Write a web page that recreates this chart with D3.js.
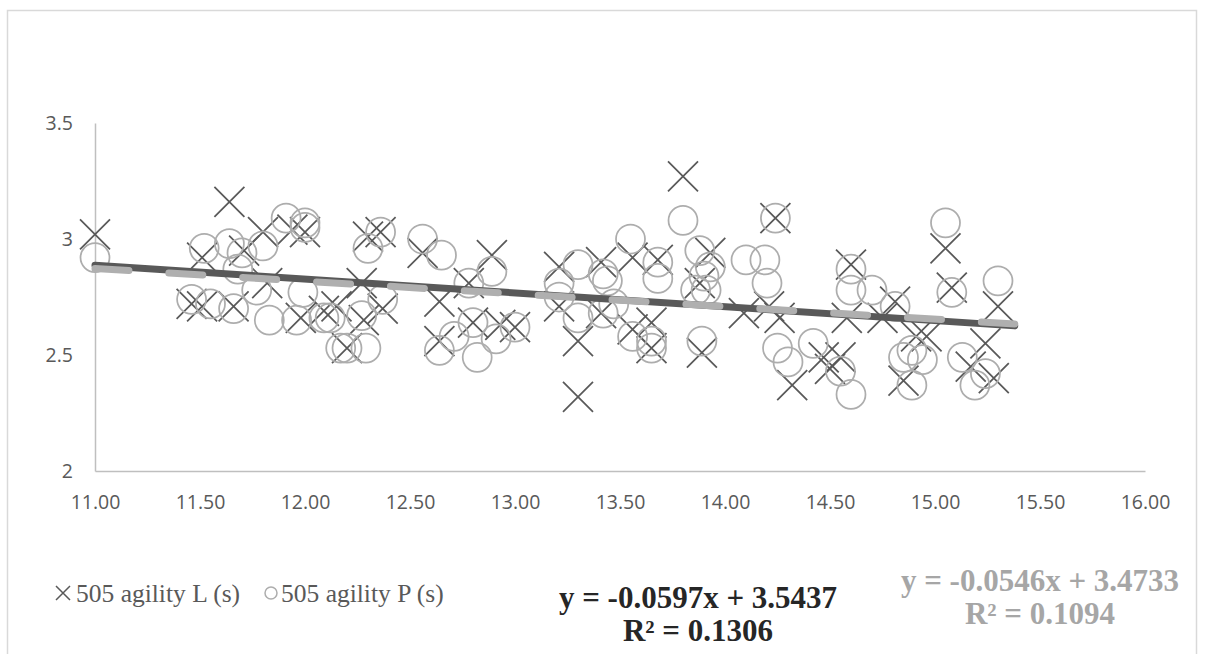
<!DOCTYPE html>
<html>
<head>
<meta charset="utf-8">
<script src="https://cdn.jsdelivr.net/npm/d3@7"></script>
<style>
  html, body { margin: 0; padding: 0; background: #fff; }
  #chart { width: 1206px; height: 654px; }
</style>
</head>
<body>
<div id="chart"></div>
<script>
// 505 agility L (s) - x markers
const agilityLx = [11.00, 11.64, 11.80, 11.94, 12.00, 11.51, 11.71, 11.82, 11.46, 11.51,
                   11.66, 11.98, 12.09, 12.20, 12.36, 12.30, 12.27, 12.37, 12.28, 12.15,
                   12.56, 12.64, 12.89, 12.78, 12.64, 12.80, 12.93, 13.00, 13.21, 13.21,
                   13.30, 13.41, 13.41, 13.80, 13.56, 13.68, 13.88, 13.93, 14.24, 14.09,
                   14.21, 14.26, 13.65, 13.56, 13.65, 13.89, 14.47, 14.55, 14.60, 14.58,
                   15.05, 15.08, 15.30, 14.81, 14.75, 14.91, 14.96, 15.24, 15.17, 13.30,
                   14.32, 14.50, 14.85, 15.28];
const agilityLy = [3.02, 3.16, 3.03, 3.04, 3.03, 2.92, 2.95, 2.81, 2.72, 2.71,
                   2.71, 2.66, 2.69, 2.53, 3.03, 3.01, 2.81, 2.70, 2.65, 2.71,
                   2.94, 2.73, 2.93, 2.81, 2.56, 2.64, 2.63, 2.62, 2.88, 2.71,
                   2.56, 2.90, 2.68, 3.27, 2.92, 2.91, 2.81, 2.94, 3.09, 2.68,
                   2.71, 2.66, 2.64, 2.61, 2.53, 2.51, 2.49, 2.49, 2.89, 2.66,
                   2.96, 2.79, 2.71, 2.73, 2.66, 2.58, 2.58, 2.55, 2.45, 2.32,
                   2.37, 2.44, 2.39, 2.40];

// 505 agility P (s) - circle markers
const agilityPx = [11.00, 11.52, 11.64, 11.70, 11.68, 11.80, 11.91, 12.00, 12.00, 11.77,
                   11.46, 11.55, 11.66, 11.83, 11.96, 11.99, 12.09, 12.17, 12.36, 12.30,
                   12.56, 12.65, 12.89, 12.78, 12.37, 12.27, 12.12, 12.20, 12.29, 12.64,
                   12.71, 12.80, 12.82, 12.91, 13.00, 13.21, 13.30, 13.21, 13.30, 13.42,
                   13.42, 13.80, 13.55, 13.68, 13.68, 13.88, 13.93, 13.90, 13.86, 13.91,
                   14.10, 14.19, 14.20, 14.24, 13.44, 13.47, 13.56, 13.65, 13.65, 13.89,
                   14.25, 14.30, 14.42, 14.55, 14.60, 14.60, 14.70, 15.05, 15.08, 15.30,
                   14.81, 14.89, 14.85, 14.94, 15.13, 15.24, 14.60, 14.89, 15.19];
const agilityPy = [2.92, 2.96, 2.98, 2.94, 2.87, 2.97, 3.09, 3.07, 3.05, 2.78,
                   2.74, 2.72, 2.70, 2.65, 2.65, 2.77, 2.66, 2.53, 3.03, 2.96,
                   3.00, 2.93, 2.86, 2.81, 2.74, 2.67, 2.66, 2.53, 2.53, 2.52,
                   2.58, 2.64, 2.49, 2.57, 2.62, 2.81, 2.89, 2.75, 2.66, 2.85,
                   2.68, 3.08, 3.00, 2.90, 2.83, 2.95, 2.88, 2.84, 2.78, 2.78,
                   2.91, 2.91, 2.81, 3.09, 2.82, 2.72, 2.58, 2.56, 2.53, 2.56,
                   2.53, 2.47, 2.55, 2.43, 2.87, 2.78, 2.78, 3.07, 2.77, 2.82,
                   2.71, 2.52, 2.49, 2.48, 2.49, 2.42, 2.33, 2.37, 2.37];

// linear trendlines [slope, intercept] and the x range they cover
const trendL = [-0.0597, 3.5437];
const trendP = [-0.0546, 3.4733];
const trendRange = [11.00, 15.38];

const xTicks = [11, 11.5, 12, 12.5, 13, 13.5, 14, 14.5, 15, 15.5, 16];
const yTicks = [2, 2.5, 3, 3.5];

const seriesNames = ["505 agility L (s)", "505 agility P (s)"];
const eqL = ["y = -0.0597x + 3.5437", "R\u00b2 = 0.1306"];
const eqP = ["y = -0.0546x + 3.4733", "R\u00b2 = 0.1094"];

function drawChart(rootElement) {
    let element = d3.select("#" + rootElement);
    let width = 1206, height = 654;

    let svg = element.append("svg")
                    .attr("width", width)
                    .attr("height", height);

    // chart border
    svg.append("path")
        .attr("d", "M7.5,664 V10.5 H1196.5 V664")
        .attr("fill", "none")
        .attr("stroke", "#d9d9d9")
        .attr("stroke-width", 1.5);

    let x = d3.scaleLinear().domain([11, 16]).range([95, 1145]);
    let y = d3.scaleLinear().domain([2, 3.5]).range([471, 123]);

    let tickFont = "'Open Sans', sans-serif";

    // axes
    let xAxis = svg.append("g")
        .attr("transform", "translate(0," + y(2) + ")")
        .call(d3.axisBottom(x).tickValues(xTicks).tickSize(0).tickPadding(24)
                .tickFormat(d3.format(".2f")));
    xAxis.select(".domain").attr("stroke", "#bfbfbf").attr("stroke-width", 1.5);
    xAxis.selectAll("text")
        .attr("font-family", tickFont)
        .attr("font-size", "19.5px")
        .attr("fill", "#595959");

    let yAxis = svg.append("g")
        .attr("transform", "translate(" + x(11) + ",0)")
        .call(d3.axisLeft(y).tickValues(yTicks).tickSize(0).tickPadding(22)
                .tickFormat(d => String(d)));
    yAxis.select(".domain").attr("stroke", "#bfbfbf").attr("stroke-width", 1.5);
    yAxis.selectAll("text")
        .attr("font-family", tickFont)
        .attr("font-size", "19.5px")
        .attr("fill", "#595959");

    // series L, x markers
    let xr = 15;
    svg.append("g").selectAll("path")
        .data(d3.range(agilityLx.length))
        .join("path")
        .attr("d", i => {
            let cx = x(agilityLx[i]), cy = y(agilityLy[i]);
            return "M" + (cx - xr) + "," + (cy - xr) + "L" + (cx + xr) + "," + (cy + xr) +
                   "M" + (cx - xr) + "," + (cy + xr) + "L" + (cx + xr) + "," + (cy - xr);
        })
        .attr("stroke", "#595959")
        .attr("stroke-width", 1.75)
        .attr("fill", "none");

    // series P, circle markers
    svg.append("g").selectAll("circle")
        .data(d3.range(agilityPx.length))
        .join("circle")
        .attr("cx", i => x(agilityPx[i]))
        .attr("cy", i => y(agilityPy[i]))
        .attr("r", 14.5)
        .attr("fill", "none")
        .attr("stroke", "#adadad")
        .attr("stroke-width", 1.75);

    // trendlines
    let line = d3.line().x(d => x(d[0])).y(d => y(d[1]));
    let ptsL = trendRange.map(v => [v, trendL[0] * v + trendL[1]]);
    let ptsP = trendRange.map(v => [v, trendP[0] * v + trendP[1]]);

    svg.append("path")
        .attr("d", line(ptsL))
        .attr("stroke", "#595959")
        .attr("stroke-width", 7)
        .attr("stroke-linecap", "round")
        .attr("fill", "none");

    svg.append("path")
        .attr("d", line(ptsP))
        .attr("stroke", "#afafaf")
        .attr("stroke-width", 7)
        .attr("stroke-linecap", "round")
        .attr("stroke-dasharray", "34,40")
        .attr("fill", "none");

    // legend
    let serif = "'Liberation Serif', 'Times New Roman', serif";
    let lg = svg.append("g");
    lg.append("path")
        .attr("d", "M56,586 L70,600 M56,600 L70,586")
        .attr("stroke", "#595959")
        .attr("stroke-width", 1.5);
    lg.append("text")
        .attr("x", 76).attr("y", 602)
        .attr("font-family", serif).attr("font-size", "25.5px")
        .attr("fill", "#595959")
        .text(seriesNames[0]);
    lg.append("circle")
        .attr("cx", 271).attr("cy", 593).attr("r", 6)
        .attr("fill", "none")
        .attr("stroke", "#adadad")
        .attr("stroke-width", 1.5);
    lg.append("text")
        .attr("x", 281).attr("y", 602)
        .attr("font-family", serif).attr("font-size", "25.5px")
        .attr("fill", "#595959")
        .text(seriesNames[1]);

    // trendline equations
    svg.append("g").selectAll("text")
        .data(eqL)
        .join("text")
        .attr("x", 698)
        .attr("y", (d, i) => 608 + i * 33)
        .attr("text-anchor", "middle")
        .attr("font-family", serif)
        .attr("font-weight", "bold")
        .attr("font-size", "31px")
        .attr("fill", "#262626")
        .text(d => d);

    svg.append("g").selectAll("text")
        .data(eqP)
        .join("text")
        .attr("x", 1040)
        .attr("y", (d, i) => 591 + i * 33)
        .attr("text-anchor", "middle")
        .attr("font-family", serif)
        .attr("font-weight", "bold")
        .attr("font-size", "31px")
        .attr("fill", "#a6a6a6")
        .text(d => d);
}

drawChart("chart");
</script>
</body>
</html>
